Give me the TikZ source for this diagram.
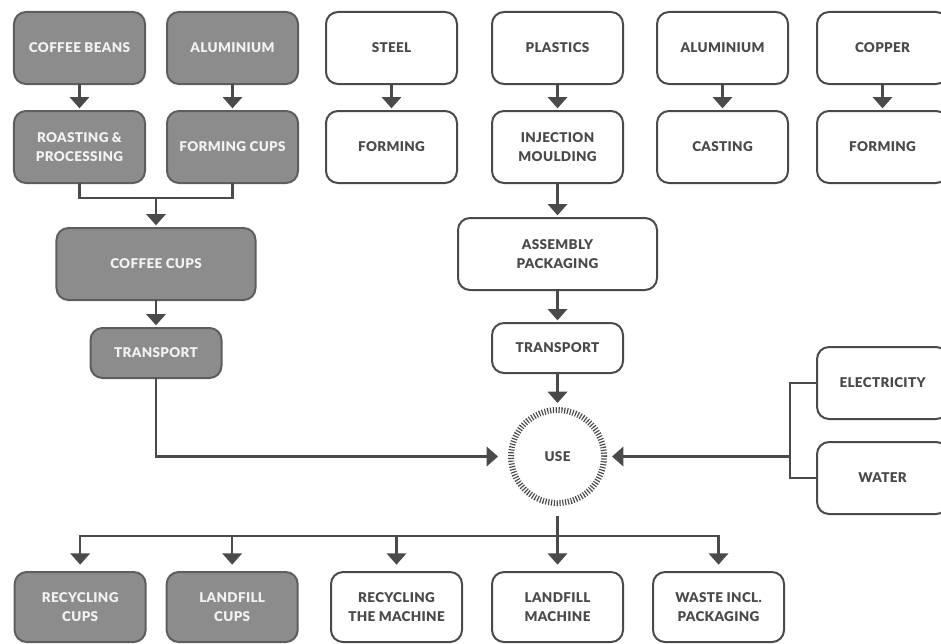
\documentclass[tikz,border=0pt]{standalone}
\usepackage{fontspec}
\newfontfamily\boxfont[LetterSpace=2.5]{Lato Black}
\usetikzlibrary{positioning,arrows.meta,calc}
\definecolor{ink}{HTML}{4A4A4A}
\definecolor{capfill}{HTML}{8C8C8C}
\definecolor{capline}{HTML}{5E5E5E}
\definecolor{captext}{HTML}{F2F2F2}
\begin{document}
\begin{tikzpicture}[x=0.03cm, y=0.03cm,
  stage/.style={draw=ink, line width=0.06cm, rounded corners=0.36cm, align=center, minimum width=3.93cm, minimum height=2.16cm, inner sep=2pt, outer sep=0pt, text=ink, fill=white, font=\boxfont\fontsize{11.5}{16.5}\selectfont},
  capstage/.style={stage, draw=capline, fill=capfill, text=captext},
  wide/.style={minimum width=5.97cm},
  short/.style={minimum height=1.5cm},
  endbox/.style={minimum height=2.1cm},
  hub/.style={circle, draw=ink, line width=0.18cm, dash pattern=on 0.035cm off 0.05cm, minimum size=2.79cm, inner sep=0pt, text=ink, font=\boxfont\fontsize{11.5}{16.5}\selectfont},
  wire/.style={draw=ink, line width=0.075cm},
  arr/.style={wire, -{Triangle[width=0.58cm, length=0.34cm]}, shorten >=0.08cm}
]
\useasboundingbox (0,0) rectangle (941,-644);

% raw materials
\node[capstage] (beans) at (79.5,-48) {COFFEE BEANS};
\node[capstage, right=0.66cm of beans] (alucup) {ALUMINIUM};
\node[stage, right=0.84cm of alucup] (steel) {STEEL};
\node[stage, right=1.05cm of steel] (plast) {PLASTICS};
\node[stage, right=1.02cm of plast] (alumach) {ALUMINIUM};
\node[stage, right=0.87cm of alumach] (copper) {COPPER};

% processing
\node[capstage, below=0.81cm of beans] (roast) {ROASTING \&\\PROCESSING};
\node[capstage, below=0.81cm of alucup] (fcups) {FORMING CUPS};
\node[stage, below=0.81cm of steel] (sform) {FORMING};
\node[stage, below=0.81cm of plast] (inject) {INJECTION\\MOULDING};
\node[stage, below=0.81cm of alumach] (cast) {CASTING};
\node[stage, below=0.81cm of copper] (cform) {FORMING};
\draw[arr] (beans) -- (roast);
\draw[arr] (alucup) -- (fcups);
\draw[arr] (steel) -- (sform);
\draw[arr] (plast) -- (inject);
\draw[arr] (alumach) -- (cast);
\draw[arr] (copper) -- (cform);

% capsules
\coordinate (join) at ($(roast.south)!0.5!(fcups.south)+(0,-0.45cm)$);
\node[capstage, wide, below=0.9cm of join] (cups) {COFFEE CUPS};
\node[capstage, short, below=0.84cm of cups] (cuptrans) {TRANSPORT};
\draw[wire] (roast.south) |- (join) -| (fcups.south);
\draw[arr] (join) -- (cups.north);
\draw[arr] (cups) -- (cuptrans);

% machine
\node[stage, wide, below=1.05cm of inject] (assembly) {ASSEMBLY\\PACKAGING};
\node[stage, short, below=0.99cm of assembly] (machtrans) {TRANSPORT};
\draw[arr] (inject) -- (assembly);
\draw[arr] (assembly) -- (machtrans);

% use phase
\node[hub, below=1.02cm of machtrans] (use) {USE};
\node[stage, below=4.92cm of cform] (elec) {ELECTRICITY};
\node[stage, below=0.69cm of elec] (water) {WATER};
\coordinate[left=0.81cm of elec.west] (ebr);
\draw[arr, shorten >=0.12cm] (machtrans) -- (use);
\draw[arr, shorten >=0.3cm] (cuptrans.south) |- (use.west);
\draw[wire] (elec.west) -- (ebr) |- (water.west);
\draw[arr, shorten >=0.15cm] (ebr |- use.east) -- (use.east);

% end of life
\node[stage, endbox, below=1.98cm of use] (landmach) {LANDFILL\\MACHINE};
\node[stage, endbox, left=0.9cm of landmach] (recmach) {RECYCLING\\THE MACHINE};
\node[capstage, endbox, left=1.0cm of recmach] (landcups) {LANDFILL\\CUPS};
\node[capstage, endbox, left=0.63cm of landcups] (reccups) {RECYCLING\\CUPS};
\node[stage, endbox, right=0.9cm of landmach] (waste) {WASTE INCL.\\PACKAGING};
\coordinate[below=0.9cm of use.south] (split);
\draw[arr, shorten <=0.3cm, shorten >=0.22cm] (use.south) -- (landmach.north);
\draw[arr, shorten >=0.22cm] (split) -| (reccups.north);
\draw[arr, shorten >=0.22cm] (split) -| (waste.north);
\draw[arr, shorten >=0.22cm] (landcups.north |- split) -- (landcups.north);
\draw[arr, shorten >=0.22cm] (recmach.north |- split) -- (recmach.north);
\end{tikzpicture}
\end{document}
